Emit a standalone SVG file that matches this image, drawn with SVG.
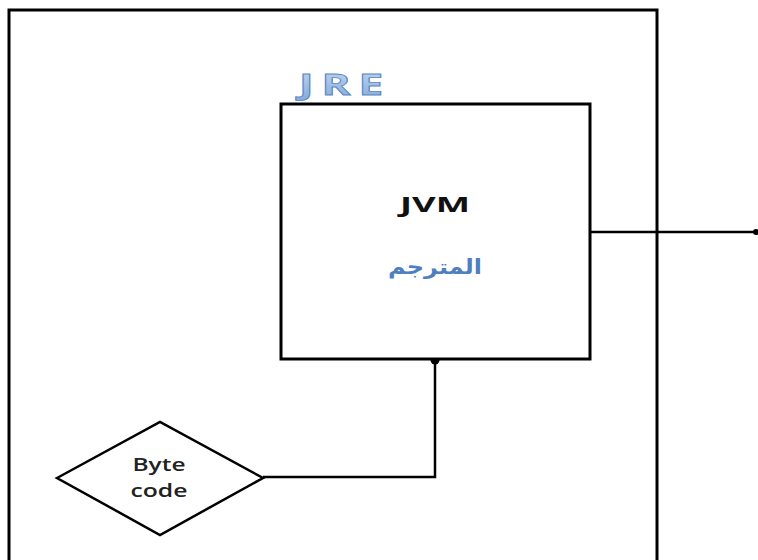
<svg xmlns="http://www.w3.org/2000/svg" width="758" height="560" viewBox="0 0 758 560">
<defs>
<linearGradient id="jre" x1="0" y1="0" x2="0" y2="1">
<stop offset="0" stop-color="#c6d9f1"/>
<stop offset="1" stop-color="#7fa7d9"/>
</linearGradient>
</defs>
<style>
.box{fill:#fff;stroke:#000;stroke-width:3}
.ln{fill:none;stroke:#000;stroke-width:2.5}
.t{font-family:"Open Sans","DejaVu Sans",sans-serif;text-anchor:middle}
</style>
<rect width="758" height="560" fill="#fff"/>
<g id="jre-box">
<rect class="box" x="9" y="10" width="648" height="570"/>
<text class="t" x="345" y="95" font-size="28" font-weight="bold" letter-spacing="5" textLength="92" lengthAdjust="spacingAndGlyphs" fill="url(#jre)" stroke="#5b86c0" stroke-width="0.8">JRE</text>
</g>
<g id="connectors">
<polyline class="ln" points="435,359 435,477 263,477"/>
<line class="ln" x1="590" y1="232" x2="756" y2="232" stroke-width="2"/>
<circle cx="435" cy="360" r="4.5" fill="#000"/>
<circle cx="756" cy="232" r="3" fill="#000"/>
</g>
<g id="jvm">
<rect class="box" x="281" y="104" width="309" height="255"/>
<text class="t" x="435" y="212" font-size="22" font-weight="bold" textLength="70" lengthAdjust="spacingAndGlyphs" fill="#111">JVM</text>
<text class="t" x="435" y="274" font-size="21" font-weight="bold" textLength="94" lengthAdjust="spacingAndGlyphs" fill="#4f7fbf" font-family="'Noto Sans','DejaVu Sans',sans-serif">المترجم</text>
</g>
<g id="bytecode">
<polygon points="57,478 160,422 263,478 160,535" fill="#fff" stroke="#000" stroke-width="2.5"/>
<text class="t" x="159" y="471" font-size="18" font-weight="600" textLength="53" lengthAdjust="spacingAndGlyphs" fill="#222">Byte</text>
<text class="t" x="159" y="497" font-size="18" font-weight="600" textLength="57" lengthAdjust="spacingAndGlyphs" fill="#222">code</text>
</g>
</svg>
